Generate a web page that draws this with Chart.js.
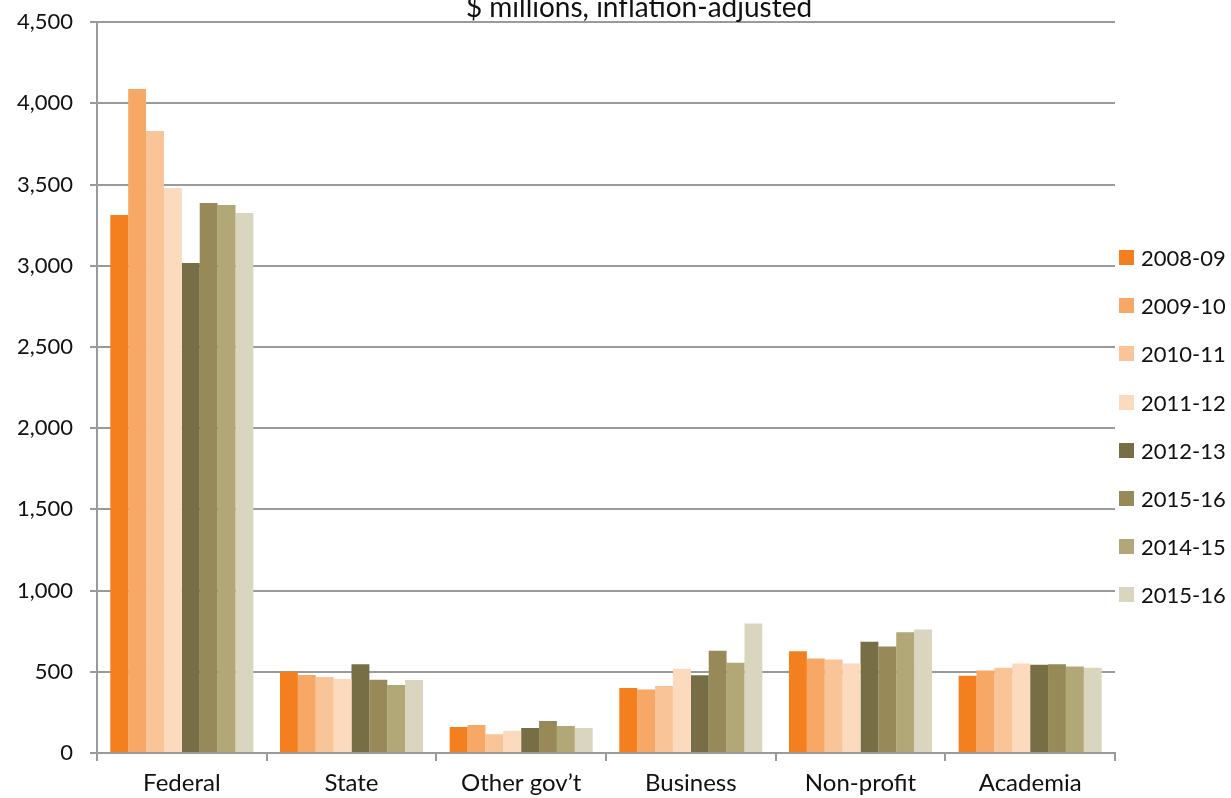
<!DOCTYPE html>
<html>
<head>
<meta charset="utf-8">
<script src="https://cdn.jsdelivr.net/npm/chart.js@4/dist/chart.umd.min.js"></script>
<style>
  body { margin: 0; background: #fff; font-family: Lato, sans-serif; }
  #wrap { position: relative; width: 1231px; height: 798px; overflow: hidden; }
  #chart { position: absolute; left: 0; top: -8px; }
  #legend { position: absolute; left: 1119px; top: 0; }
  .item { position: absolute; left: 0; width: 112px; height: 26px; white-space: nowrap; }
  .sw { position: absolute; left: 0; top: 5px; width: 15px; height: 15px; }
  .lt { position: absolute; left: 22px; top: 0; font-size: 22px; line-height: 26px; color: #111; }
</style>
</head>
<body>
<div id="wrap">
  <canvas id="chart" width="1231" height="806"></canvas>
  <div id="legend"></div>
</div>
<script>
const titleText = '$ millions, inflation-adjusted';
const categories = ['Federal', 'State', 'Other gov\u2019t', 'Business', 'Non-profit', 'Academia'];
const seriesNames = ['2008-09', '2009-10', '2010-11', '2011-12', '2012-13', '2015-16', '2014-15', '2015-16'];
const seriesColors = ['#F47F1F', '#F7A867', '#FAC499', '#FBDABE', '#776E45', '#978A58', '#B2A776', '#DAD5BF'];

const v2008 = [3313, 500, 160, 401, 626, 475];
const v2009 = [4089, 480, 172, 391, 582, 508];
const v2010 = [3830, 468, 115, 412, 576, 525];
const v2011 = [3479, 455, 137, 519, 551, 551];
const v2012 = [3017, 546, 154, 479, 685, 543];
const v2015a = [3387, 451, 197, 630, 656, 547];
const v2014 = [3374, 418, 166, 556, 743, 533];
const v2015b = [3325, 449, 154, 798, 761, 525];
const seriesValues = [v2008, v2009, v2010, v2011, v2012, v2015a, v2014, v2015b];

const yTicks = [0, 500, 1000, 1500, 2000, 2500, 3000, 3500, 4000, 4500];

const gridGray = '#9a9a9a';

// title sits partly above the top edge, like the original
const titlePlugin = {
  id: 'topTitle',
  afterDraw(chart) {
    const ctx = chart.ctx;
    ctx.save();
    ctx.font = '28px Lato';
    ctx.fillStyle = '#111';
    ctx.textAlign = 'center';
    ctx.textBaseline = 'alphabetic';
    ctx.fillText(titleText, 639, 25);
    ctx.restore();
  }
};

const ctx = document.getElementById('chart').getContext('2d');
new Chart(ctx, {
  type: 'bar',
  data: {
    labels: categories,
    datasets: seriesNames.map((name, i) => ({
      label: name,
      data: seriesValues[i],
      backgroundColor: seriesColors[i],
      borderWidth: 0,
      categoryPercentage: 0.843,
      barPercentage: 1.0
    }))
  },
  options: {
    responsive: false,
    animation: false,
    layout: { padding: { top: 14, right: 116, left: 0, bottom: 0 } },
    plugins: { legend: { display: false }, tooltip: { enabled: false }, title: { display: false } },
    scales: {
      x: {
        grid: { display: true, drawOnChartArea: false, drawTicks: true, tickLength: 8, color: gridGray, lineWidth: 2, offset: true },
        border: { display: true, color: gridGray, width: 2 },
        ticks: { font: { family: 'Lato', size: 24 }, color: '#111', padding: 8, maxRotation: 0 },
        afterFit(scale) { scale.height = 45; }
      },
      y: {
        min: 0,
        max: 4500,
        afterBuildTicks(scale) { scale.ticks = yTicks.map(v => ({ value: v })); },
        grid: { color: gridGray, lineWidth: 2, tickLength: 7, drawTicks: true },
        border: { display: true, color: gridGray, width: 2 },
        ticks: {
          font: { family: 'Lato', size: 22 },
          color: '#111',
          padding: 17,
          callback: v => v.toLocaleString('en-US')
        },
        afterFit(scale) { scale.width = 97; }
      }
    }
  },
  plugins: [titlePlugin]
});

// legend as html
const legend = document.getElementById('legend');
seriesNames.forEach((name, i) => {
  const item = document.createElement('div');
  item.className = 'item';
  item.style.top = (258 + 48.2 * i - 13) + 'px';
  const sw = document.createElement('div');
  sw.className = 'sw';
  sw.style.background = seriesColors[i];
  const lt = document.createElement('div');
  lt.className = 'lt';
  lt.textContent = name;
  item.appendChild(sw);
  item.appendChild(lt);
  legend.appendChild(item);
});
</script>
</body>
</html>
